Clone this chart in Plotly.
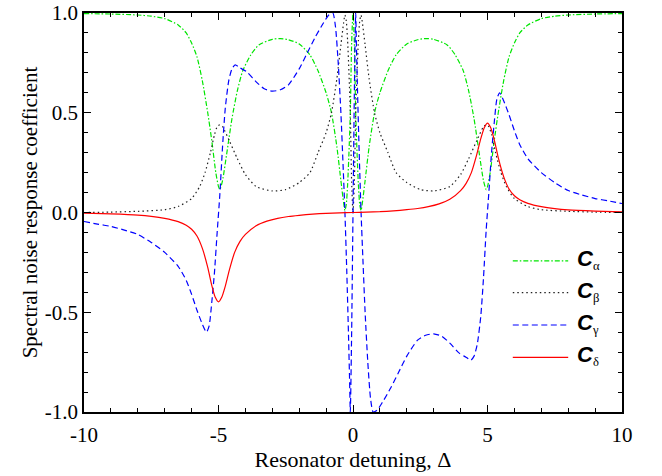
import plotly.graph_objects as go

# Resonator detuning grid and response coefficients for each channel
x_alpha = [-10, -9, -8, -7.5, -7, -6.5, -6.2, -6, -5.8, -5.6, -5.4, -5.25, -5.1, -5, -4.95, -4.85,
           -4.7, -4.5, -4.3, -4.1, -3.8, -3.5, -3, -2.7, -2.4, -2, -1.6, -1.3, -1, -0.8, -0.6, -0.45,
           -0.35, -0.3, -0.25, -0.2, -0.15, -0.1, -0.05, 0, 0.05, 0.1, 0.15, 0.2, 0.25, 0.3, 0.35,
           0.45, 0.6, 0.8, 1, 1.3, 1.6, 2, 2.4, 2.7, 3, 3.5, 3.8, 4.1, 4.3, 4.5, 4.7, 4.85, 4.95, 5,
           5.1, 5.25, 5.4, 5.6, 5.8, 6, 6.2, 6.5, 7, 7.5, 8, 9, 10]
c_alpha = [0.997, 0.995, 0.99, 0.984, 0.972, 0.94, 0.9, 0.85, 0.78, 0.66, 0.5, 0.36, 0.2, 0.13, 0.115,
           0.16, 0.29, 0.47, 0.61, 0.71, 0.79, 0.84, 0.868, 0.872, 0.866, 0.845, 0.79, 0.71, 0.6, 0.5,
           0.33, 0.16, 0.05, 0.01, 0.04, 0.14, 0.3, 0.5, 0.85, 1.0, 0.85, 0.5, 0.3, 0.14, 0.04, 0.01,
           0.05, 0.16, 0.33, 0.5, 0.6, 0.71, 0.79, 0.845, 0.866, 0.872, 0.868, 0.84, 0.79, 0.71, 0.61,
           0.47, 0.29, 0.16, 0.115, 0.13, 0.2, 0.36, 0.5, 0.66, 0.78, 0.85, 0.9, 0.94, 0.972, 0.984,
           0.99, 0.995, 0.997]

x_beta = [-10, -9, -8, -7, -6.5, -6, -5.7, -5.5, -5.3, -5.15, -5.05, -4.95, -4.85, -4.6, -4.3, -4,
          -3.6, -3, -2.5, -2, -1.6, -1.3, -1, -0.8, -0.6, -0.45, -0.35, -0.3, -0.25, -0.2, -0.15,
          -0.1, -0.05, 0, 0.05, 0.1, 0.15, 0.2, 0.25, 0.3, 0.35, 0.45, 0.6, 0.8, 1, 1.3, 1.6, 2,
          2.5, 3, 3.6, 4, 4.3, 4.6, 4.85, 4.95, 5.05, 5.15, 5.3, 5.5, 5.7, 6, 6.5, 7, 8, 9, 10]
c_beta = [0.0, 0.002, 0.006, 0.014, 0.03, 0.07, 0.13, 0.2, 0.3, 0.39, 0.43, 0.44, 0.43, 0.36, 0.27,
          0.19, 0.13, 0.108, 0.115, 0.15, 0.2, 0.3, 0.4, 0.5, 0.67, 0.84, 0.95, 0.99, 0.96, 0.86,
          0.7, 0.5, 0.15, 0.0, 0.15, 0.5, 0.7, 0.86, 0.96, 0.99, 0.95, 0.84, 0.67, 0.5, 0.4, 0.3,
          0.2, 0.15, 0.115, 0.108, 0.13, 0.19, 0.27, 0.36, 0.43, 0.44, 0.43, 0.39, 0.3, 0.2, 0.13,
          0.07, 0.03, 0.014, 0.006, 0.002, 0.0]

x_gamma = [-10, -9.5, -9, -8.5, -8, -7.5, -7, -6.5, -6.2, -6, -5.8, -5.6, -5.45, -5.35, -5.25, -5.15,
           -5.05, -4.95, -4.85, -4.75, -4.62, -4.5, -4.38, -4.2, -3.95, -3.6, -3.3, -3, -2.7, -2.4,
           -2, -1.7, -1.4, -1.1, -0.9, -0.75, -0.65, -0.55, -0.45, -0.37, -0.3, -0.23, -0.17,
           -0.13, -0.1, -0.05, 0, 0.05, 0.1, 0.13, 0.17, 0.23, 0.3, 0.37, 0.45, 0.55, 0.65, 0.75,
           0.9, 1.1, 1.4, 1.7, 2, 2.4, 2.7, 3, 3.3, 3.6, 3.95, 4.2, 4.38, 4.5, 4.62, 4.75, 4.85,
           4.95, 5.05, 5.15, 5.25, 5.35, 5.45, 5.6, 5.8, 6, 6.2, 6.5, 7, 7.5, 8, 8.5, 9, 9.5, 10]
c_gamma = [-0.045, -0.058, -0.07, -0.088, -0.11, -0.15, -0.2, -0.27, -0.34, -0.41, -0.49, -0.56,
           -0.6, -0.57, -0.45, -0.3, -0.1, 0.09, 0.33, 0.52, 0.66, 0.72, 0.74, 0.725, 0.705, 0.655,
           0.62, 0.608, 0.615, 0.64, 0.72, 0.8, 0.88, 0.95, 0.99, 1.0, 0.93, 0.75, 0.5, 0.24, 0.0,
           -0.3, -0.6, -0.82, -1.0, -0.6, 0.0, 0.6, 1.0, 0.82, 0.6, 0.3, 0.0, -0.24, -0.5, -0.75,
           -0.93, -1.0, -0.99, -0.95, -0.88, -0.8, -0.72, -0.64, -0.615, -0.608, -0.62, -0.655,
           -0.705, -0.725, -0.74, -0.72, -0.66, -0.52, -0.33, -0.09, 0.1, 0.3, 0.45, 0.57, 0.6,
           0.56, 0.49, 0.41, 0.34, 0.27, 0.2, 0.15, 0.11, 0.088, 0.07, 0.058, 0.045]

x_delta = [-10, -9, -8, -7.5, -7, -6.5, -6.2, -6, -5.8, -5.6, -5.4, -5.25, -5.12, -5, -4.88, -4.75,
           -4.6, -4.4, -4.2, -4, -3.6, -3.2, -2.8, -2.4, -2, -1.5, -1, -0.5, 0, 0.5, 1, 1.5, 2, 2.4,
           2.8, 3.2, 3.6, 4, 4.2, 4.4, 4.6, 4.75, 4.88, 5, 5.12, 5.25, 5.4, 5.6, 5.8, 6, 6.2, 6.5,
           7, 7.5, 8, 9, 10]
c_delta = [-0.003, -0.007, -0.013, -0.019, -0.029, -0.046, -0.064, -0.084, -0.118, -0.18, -0.275,
           -0.365, -0.425, -0.448, -0.425, -0.37, -0.29, -0.2, -0.145, -0.11, -0.066, -0.043, -0.029,
           -0.02, -0.014, -0.008, -0.004, -0.002, 0.0, 0.002, 0.004, 0.008, 0.014, 0.02, 0.029, 0.043,
           0.066, 0.11, 0.145, 0.2, 0.29, 0.37, 0.425, 0.448, 0.425, 0.365, 0.275, 0.18, 0.118,
           0.084, 0.064, 0.046, 0.029, 0.019, 0.013, 0.007, 0.003]

x_ticks = [-10, -5, 0, 5, 10]
x_ticktext = ["-10", "-5", "0", "5", "10"]
y_ticks = [-1.0, -0.5, 0.0, 0.5, 1.0]
y_ticktext = ["-1.0", "-0.5", "0.0", "0.5", "1.0"]

series = [
    ("α", x_alpha, c_alpha, "#00e600", "5px,2px,1.5px,2px"),
    ("β", x_beta, c_beta, "#222222", "1.5px,3px"),
    ("γ", x_gamma, c_gamma, "#0000ff", "6px,3.5px"),
    ("δ", x_delta, c_delta, "#ff0000", "solid"),
]

SERIF = "Liberation Serif"
fig = go.Figure()
for sub, xs, ys, color, dash in series:
    fig.add_trace(go.Scatter(
        x=xs, y=ys, mode="lines", name="C" + sub, showlegend=False,
        line=dict(color=color, width=1.2, dash=dash, shape="spline", smoothing=0.6),
    ))

# Hand-placed legend: sample lines plus italic C with Greek subscript
legend_y = [0.379, 0.299, 0.218, 0.137]
for (sub, _, _, color, dash), ly in zip(series, legend_y):
    fig.add_shape(type="line", xref="paper", yref="paper", x0=0.797, x1=0.900, y0=ly, y1=ly,
                  line=dict(color=color, width=1.2, dash=dash))
    fig.add_annotation(
        xref="paper", yref="paper", x=0.912, y=ly + 0.004, xanchor="left", yanchor="middle",
        showarrow=False,
        text=('<span style="font-family:Liberation Sans;font-weight:bold;font-style:italic;'
              'font-size:22px">C</span><sub>' + sub + '</sub>'),
        font=dict(family=SERIF, size=18, color="black"),
    )

axis_common = dict(
    showline=True, linewidth=1.5, linecolor="black", mirror="ticks",
    ticks="inside", ticklen=7, tickwidth=1.3, tickcolor="black",
    showgrid=False, zeroline=False,
    tickfont=dict(family=SERIF, size=21, color="black"),
)

fig.update_xaxes(
    range=[-10, 10], tickmode="array", tickvals=x_ticks, ticktext=x_ticktext,
    ticklabelstandoff=3,
    minor=dict(ticks="inside", ticklen=4, tickwidth=1.1, tickcolor="black",
               tickmode="linear", tick0=0, dtick=1, showgrid=False),
    title=dict(text="Resonator detuning, Δ", font=dict(family=SERIF, size=22, color="black"),
               standoff=5),
    **axis_common,
)
fig.update_yaxes(
    range=[-1, 1], tickmode="array", tickvals=y_ticks, ticktext=y_ticktext,
    minor=dict(ticks="inside", ticklen=4, tickwidth=1.1, tickcolor="black",
               tickmode="linear", tick0=0, dtick=0.1, showgrid=False),
    title=dict(text="Spectral noise response coefficient",
               font=dict(family=SERIF, size=21, color="black"), standoff=1),
    **axis_common,
)

fig.update_layout(
    width=662, height=476,
    margin=dict(l=84, r=40, t=13, b=64, autoexpand=False),
    paper_bgcolor="white", plot_bgcolor="white",
    showlegend=False,
)

fig.write_html("out.html")
